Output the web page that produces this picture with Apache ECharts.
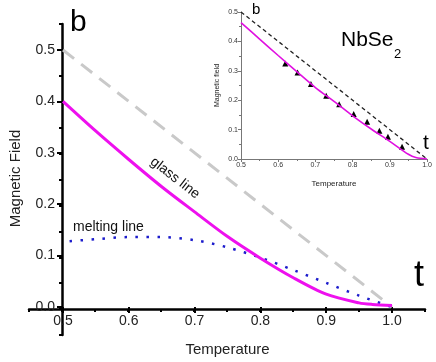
<!DOCTYPE html>
<html>
<head>
<meta charset="utf-8">
<script src="https://cdn.jsdelivr.net/npm/echarts@6/dist/echarts.min.js"></script>
<style>
  html, body { margin: 0; padding: 0; background: #fff; }
  #chart { width: 436px; height: 362px; }
</style>
</head>
<body>
<div id="chart"></div>
<script>
// main panel
const glassT = [0.5, 0.55, 0.6, 0.65, 0.7, 0.75, 0.8, 0.85, 0.9, 0.95, 0.97, 1.0];
const glassB = [0.400, 0.342, 0.287, 0.234, 0.185, 0.137, 0.095, 0.057, 0.025, 0.008, 0.005, 0.003];
const meltT = [0.51, 0.55, 0.6, 0.65, 0.7, 0.75, 0.8, 0.85, 0.9, 0.95, 1.0];
const meltB = [0.128, 0.132, 0.136, 0.136, 0.130, 0.116, 0.096, 0.072, 0.047, 0.022, 0.0];
const hc2T = [0.5, 1.0];
const hc2B = [0.5, 0.0];

// inset (NbSe2)
const insetLineT = [0.5, 0.55, 0.6, 0.65, 0.7, 0.75, 0.8, 0.85, 0.9, 0.95, 0.97, 1.0];
const insetLineB = [0.464, 0.408, 0.352, 0.297, 0.243, 0.196, 0.147, 0.102, 0.060, 0.016, 0.005, 0.0];
const expT = [0.619, 0.652, 0.688, 0.729, 0.764, 0.803, 0.839, 0.872, 0.895, 0.933];
const expB = [0.325, 0.294, 0.255, 0.215, 0.186, 0.153, 0.127, 0.096, 0.076, 0.042];

const pairs = (xs, ys) => xs.map((x, i) => [x, ys[i]]);
const FONT = 'Arial, "Liberation Sans", sans-serif';

const chart = echarts.init(document.getElementById('chart'));

const option = {
    animation: false,
    grid: [
        // extended frame for the crossing axis lines
        { left: 29, right: 11, top: 24, bottom: 27 },
        // main plot area
        { left: 62, right: 44, top: 50, bottom: 53 },
        // inset
        { left: 241, right: 9, top: 12, bottom: 203 }
    ],
    xAxis: [
        {
            gridIndex: 0, type: 'value', min: 0.45, max: 1.05, interval: 0.05,
            position: 'bottom', offset: -26,
            axisLine: { lineStyle: { color: '#000', width: 2.5 } },
            axisTick: { length: 3, lineStyle: { color: '#000', width: 2 } },
            axisLabel: { show: false },
            splitLine: { show: false }
        },
        {
            gridIndex: 1, type: 'value', min: 0.5, max: 1.0, interval: 0.1,
            axisLine: { show: false },
            axisTick: { length: 6, lineStyle: { color: '#000', width: 2 } },
            axisLabel: {
                fontSize: 14, color: '#222', fontFamily: FONT, margin: 7,
                formatter: v => v.toFixed(1)
            },
            splitLine: { show: false },
            name: 'Temperature', nameLocation: 'middle', nameGap: 35,
            nameTextStyle: { fontSize: 15, color: '#222', fontFamily: FONT }
        },
        {
            gridIndex: 2, type: 'value', min: 0.5, max: 1.0, interval: 0.1,
            axisLine: { lineStyle: { color: '#777', width: 1 } },
            axisTick: { length: 3, lineStyle: { color: '#777' } },
            minorTick: { show: true, splitNumber: 2, length: 2, lineStyle: { color: '#777' } },
            axisLabel: {
                fontSize: 7, color: '#333', fontFamily: FONT, margin: 3,
                formatter: v => v.toFixed(1)
            },
            splitLine: { show: false },
            name: 'Temperature', nameLocation: 'middle', nameGap: 21,
            nameTextStyle: { fontSize: 8, color: '#222', fontFamily: FONT }
        }
    ],
    yAxis: [
        {
            gridIndex: 0, type: 'value', min: -0.05, max: 0.55, interval: 0.05,
            position: 'left', offset: -33,
            axisLine: { lineStyle: { color: '#000', width: 2.5 } },
            axisTick: { length: 3, lineStyle: { color: '#000', width: 2 } },
            axisLabel: { show: false },
            splitLine: { show: false }
        },
        {
            gridIndex: 1, type: 'value', min: 0, max: 0.5, interval: 0.1,
            axisLine: { show: false },
            axisTick: { length: 6, lineStyle: { color: '#000', width: 2 } },
            axisLabel: {
                fontSize: 14, color: '#222', fontFamily: FONT, margin: 8,
                formatter: v => v.toFixed(1)
            },
            splitLine: { show: false },
            name: 'Magnetic Field', nameLocation: 'middle', nameGap: 40,
            nameTextStyle: { fontSize: 15, color: '#222', fontFamily: FONT }
        },
        {
            gridIndex: 2, type: 'value', min: 0, max: 0.5, interval: 0.1,
            axisLine: { lineStyle: { color: '#777', width: 1 } },
            axisTick: { length: 3, lineStyle: { color: '#777' } },
            minorTick: { show: true, splitNumber: 2, length: 2, lineStyle: { color: '#777' } },
            axisLabel: {
                fontSize: 7, color: '#333', fontFamily: FONT, margin: 3,
                formatter: v => v.toFixed(1)
            },
            splitLine: { show: false },
            name: 'Magnetic field', nameLocation: 'middle', nameGap: 20,
            nameTextStyle: { fontSize: 7, color: '#222', fontFamily: FONT }
        }
    ],
    series: [
        {
            type: 'line', xAxisIndex: 1, yAxisIndex: 1, data: pairs(hc2T, hc2B),
            symbol: 'none', lineStyle: { color: '#c9c9c9', width: 3, type: [14, 9] }
        },
        {
            type: 'line', xAxisIndex: 1, yAxisIndex: 1, data: pairs(meltT, meltB),
            symbol: 'none', smooth: 0.3,
            lineStyle: { color: '#1c1ccc', width: 2.5, type: [2.5, 8.5] }
        },
        {
            type: 'line', xAxisIndex: 1, yAxisIndex: 1, data: pairs(glassT, glassB),
            symbol: 'none', smooth: 0.3,
            lineStyle: { color: '#ee10ee', width: 3 }
        },
        {
            type: 'line', xAxisIndex: 2, yAxisIndex: 2, data: pairs(hc2T, hc2B),
            symbol: 'none', lineStyle: { color: '#222', width: 1.3, type: [4, 3] }
        },
        {
            type: 'line', xAxisIndex: 2, yAxisIndex: 2, data: pairs(insetLineT, insetLineB),
            symbol: 'none', smooth: 0.3,
            lineStyle: { color: '#e010e0', width: 1.6 }
        },
        {
            type: 'scatter', xAxisIndex: 2, yAxisIndex: 2, data: pairs(expT, expB),
            symbol: 'triangle', symbolSize: 6, itemStyle: { color: '#000', opacity: 1 }
        }
    ],
    graphic: [
        { type: 'text', left: 70, top: 8, style: { text: 'b', font: '30px ' + FONT, fill: '#000' } },
        { type: 'text', left: 414, top: 258, style: { text: 't', font: '36px ' + FONT, fill: '#000' } },
        {
            type: 'text', x: 175, y: 178, rotation: -0.66,
            style: { text: 'glass line', font: '14px ' + FONT, fill: '#111', align: 'center', verticalAlign: 'middle' }
        },
        { type: 'text', left: 73, top: 220, style: { text: 'melting line', font: '14px ' + FONT, fill: '#111' } },
        { type: 'text', left: 252, top: 2, style: { text: 'b', font: '15px ' + FONT, fill: '#000' } },
        { type: 'text', left: 423, top: 133, style: { text: 't', font: '21px ' + FONT, fill: '#000' } },
        { type: 'text', left: 341, top: 30, style: { text: 'NbSe', font: '21px ' + FONT, fill: '#000' } },
        { type: 'text', left: 394, top: 48, style: { text: '2', font: '13px ' + FONT, fill: '#000' } }
    ]
};

chart.setOption(option);
</script>
</body>
</html>
